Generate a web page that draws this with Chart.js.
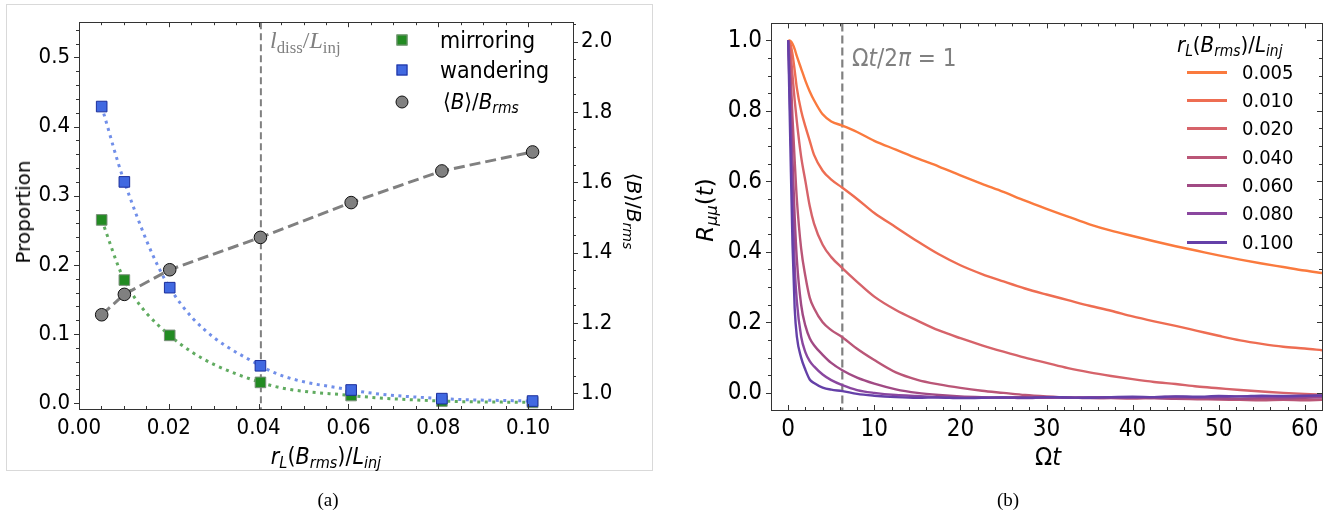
<!DOCTYPE html>
<html>
<head>
<meta charset="utf-8">
<script src="https://cdn.jsdelivr.net/npm/chart.js@4.4.0/dist/chart.umd.min.js"></script>
<style>
    body { margin: 0; width: 1343px; height: 518px; background: #fff; position: relative; overflow: hidden; font-family: 'DejaVu Sans', sans-serif; color: #000; }
    canvas { position: absolute; top: 0; }
    .t { position: absolute; white-space: nowrap; line-height: 1; transform: translate(-50%, -50%); }
    .l { position: absolute; white-space: nowrap; line-height: 1; transform: translateY(-50%); }
    .c { font-family: 'DejaVu Sans Condensed', 'DejaVu Sans', sans-serif; }
    sub { font-size: 70%; vertical-align: -0.28em; line-height: 0; }
    .serif { font-family: 'Liberation Serif', 'DejaVu Serif', serif; }
    .frameA { position: absolute; left: 6px; top: 4px; width: 645px; height: 465px; border: 1px solid #d9d9d9; }
    .mk { position: absolute; transform: translate(-50%, -50%); box-sizing: border-box; }
    .ln { position: absolute; height: 3px; width: 40px; left: 1187px; }
</style>
</head>
<body>
<div class="frameA"></div>
<canvas id="chartA" width="660" height="480" style="left:0;width:660px;height:480px"></canvas>
<canvas id="chartB" width="683" height="480" style="left:660px;width:683px;height:480px"></canvas>

<!-- panel (a) texts -->
<div class="t" style="left:23px;top:212px;font-size:20px;transform:translate(-50%,-50%) rotate(-90deg)">Proportion</div>
<div class="t" style="left:634px;top:211px;font-size:20px;transform:translate(-50%,-50%) rotate(90deg)">⟨<i>B</i>⟩/<i>B</i><sub><i>rms</i></sub></div>
<div class="t c" style="left:326px;top:456px;font-size:23px"><i>r</i><sub><i>L</i></sub>(<i>B</i><sub><i>rms</i></sub>)/<i>L</i><sub><i>inj</i></sub></div>
<div class="l serif" style="left:270px;top:40px;font-size:24px;color:#808080"><i>l</i><sub>diss</sub>/<i>L</i><sub>inj</sub></div>

<div class="mk" style="left:402px;top:40px;width:11px;height:11px;background:#228b22;border:1px solid #7b8f7b"></div>
<div class="mk" style="left:402px;top:70px;width:11px;height:11px;background:#4169e1;border:1px solid #1c2f9c"></div>
<div class="mk" style="left:402px;top:102px;width:13px;height:13px;border-radius:50%;background:#808080;border:1px solid #111"></div>
<div class="l c" style="left:440px;top:40px;font-size:23px">mirroring</div>
<div class="l c" style="left:440px;top:70px;font-size:23px">wandering</div>
<div class="l c" style="left:443px;top:102px;font-size:22px">⟨<i>B</i>⟩/<i>B</i><sub><i>rms</i></sub></div>
<div class="t serif" style="left:328px;top:499px;font-size:19px">(a)</div>

<!-- panel (b) texts -->
<div class="t" style="left:705px;top:210px;font-size:23px;transform:translate(-50%,-50%) rotate(-90deg)"><i>R</i><sub><i>μμ</i></sub>(<i>t</i>)</div>
<div class="t c" style="left:1048px;top:456px;font-size:25px">Ω<i>t</i></div>
<div class="l c" style="left:852px;top:58px;font-size:24px;color:#808080">Ω<i>t</i>/2<i>π</i> = 1</div>
<div class="l c" style="left:1177px;top:45px;font-size:22px"><i>r</i><sub><i>L</i></sub>(<i>B</i><sub><i>rms</i></sub>)/<i>L</i><sub><i>inj</i></sub></div>
<div id="legendB"></div>
<div class="t serif" style="left:1008px;top:499px;font-size:19px">(b)</div>

<script>
// ---- panel (a) data ----
const rL = [0.00505, 0.0101, 0.0202, 0.0404, 0.0606, 0.0808, 0.101];
const mirroring = [0.265, 0.178, 0.098, 0.030, 0.011, 0.003, 0.001];
const wandering = [0.429, 0.320, 0.167, 0.054, 0.019, 0.0065, 0.003];
const bMeanRatio = [1.223, 1.281, 1.351, 1.443, 1.542, 1.632, 1.686];
const lDiss = 0.0405;

const aXTicks = [0, 0.02, 0.04, 0.06, 0.08, 0.10];
const aLeftTicks = [0, 0.1, 0.2, 0.3, 0.4, 0.5];
const aRightTicks = [1.0, 1.2, 1.4, 1.6, 1.8, 2.0];

// ---- panel (b) data ----
const omegaT = [0, 0.25, 0.5, 0.75, 1, 1.5, 2, 2.5, 3, 4, 5, 6.28, 8, 10, 12.5, 15, 17.5, 20, 22.5, 25,
                27.5, 30, 32.5, 35, 37.5, 40, 42.5, 45, 47.5, 50, 52.5, 55, 57.5, 60, 62];
const r005 = [1.0, 0.998, 0.99, 0.975, 0.955, 0.92, 0.885, 0.855, 0.83, 0.79, 0.77, 0.758, 0.74, 0.715, 0.69, 0.665, 0.642, 0.617, 0.593, 0.57,
              0.545, 0.522, 0.5, 0.478, 0.46, 0.445, 0.43, 0.416, 0.403, 0.39, 0.378, 0.367, 0.357, 0.347, 0.34];
const r010 = [1.0, 0.99, 0.96, 0.915, 0.865, 0.8, 0.755, 0.715, 0.675, 0.63, 0.605, 0.582, 0.55, 0.51, 0.47, 0.43, 0.393, 0.362, 0.337, 0.316,
              0.296, 0.279, 0.263, 0.247, 0.233, 0.217, 0.203, 0.19, 0.176, 0.162, 0.149, 0.139, 0.131, 0.126, 0.121];
const r020 = [1.0, 0.97, 0.9, 0.83, 0.77, 0.67, 0.6, 0.53, 0.48, 0.42, 0.385, 0.354, 0.315, 0.273, 0.235, 0.205, 0.177, 0.155, 0.135, 0.117,
              0.1, 0.085, 0.07, 0.058, 0.048, 0.039, 0.031, 0.025, 0.018, 0.013, 0.008, 0.004, 0.0, -0.003, -0.005];
const r040 = [1.0, 0.92, 0.78, 0.66, 0.55, 0.41, 0.33, 0.27, 0.24, 0.2, 0.178, 0.158, 0.125, 0.093, 0.058, 0.037, 0.024, 0.014, 0.006, 0.0,
              -0.006, -0.01, -0.013, -0.014, -0.015, -0.016, -0.015, -0.017, -0.018, -0.019, -0.02, -0.021, -0.02, -0.021, -0.02];
const r060 = [1.0, 0.86, 0.66, 0.5, 0.38, 0.25, 0.19, 0.155, 0.135, 0.108, 0.085, 0.064, 0.043, 0.026, 0.01, 0.0, -0.006, -0.01, -0.012, -0.013,
              -0.012, -0.014, -0.013, -0.015, -0.014, -0.013, -0.015, -0.016, -0.014, -0.016, -0.017, -0.015, -0.016, -0.014, -0.013];
const r080 = [1.0, 0.78, 0.55, 0.36, 0.26, 0.16, 0.115, 0.09, 0.075, 0.052, 0.036, 0.022, 0.008, 0.0, -0.006, -0.009, -0.012, -0.013, -0.014, -0.013,
              -0.015, -0.013, -0.014, -0.012, -0.013, -0.014, -0.012, -0.011, -0.013, -0.012, -0.01, -0.011, -0.012, -0.01, -0.009];
const r100 = [1.0, 0.7, 0.42, 0.24, 0.16, 0.1, 0.065, 0.038, 0.028, 0.015, 0.009, 0.005, -0.003, -0.008, -0.012, -0.014, -0.013, -0.015, -0.014, -0.013,
              -0.014, -0.012, -0.013, -0.014, -0.012, -0.011, -0.012, -0.01, -0.011, -0.009, -0.01, -0.008, -0.009, -0.008, -0.007];
const seriesNames = ['0.005', '0.010', '0.020', '0.040', '0.060', '0.080', '0.100'];
const seriesValues = [r005, r010, r020, r040, r060, r080, r100];
const seriesColors = ['#fa7a3e', '#ee6d52', '#d6636a', '#ba5677', '#a14a84', '#8a479f', '#6440a8'];
const twoPi = 6.283;

const bXTicks = [0, 10, 20, 30, 40, 50, 60];
const bYTicks = [0, 0.2, 0.4, 0.6, 0.8, 1.0];

function range(start, stop, step) {
    const out = [];
    for (let v = start; v <= stop + step / 1000; v += step) out.push(Math.round(v * 1e6) / 1e6);
    return out;
}

// frame around the plot area plus major/minor tick marks
const frameTicks = {
    id: 'frameTicks',
    afterDraw(chart, args, opts) {
        const ctx = chart.ctx;
        const a = chart.chartArea;
        ctx.save();
        ctx.strokeStyle = '#333';
        ctx.lineWidth = 1;
        ctx.strokeRect(Math.round(a.left) + 0.5, Math.round(a.top) + 0.5, Math.round(a.right - a.left), Math.round(a.bottom - a.top));
        opts.marks.forEach(m => {
            const scale = chart.scales[m.scale];
            m.values.forEach(v => {
                if (v < scale.min || v > scale.max) return;
                const p = Math.round(scale.getPixelForValue(v)) + 0.5;
                const len = m.len * m.dir;
                ctx.beginPath();
                if (m.side === 'bottom') { ctx.moveTo(p, a.bottom); ctx.lineTo(p, a.bottom - len); }
                if (m.side === 'top') { ctx.moveTo(p, a.top); ctx.lineTo(p, a.top + len); }
                if (m.side === 'left') { ctx.moveTo(a.left, p); ctx.lineTo(a.left + len, p); }
                if (m.side === 'right') { ctx.moveTo(a.right, p); ctx.lineTo(a.right - len, p); }
                ctx.stroke();
            });
        });
        ctx.restore();
    }
};

// vertical dashed reference line
const vLine = {
    id: 'vLine',
    beforeDatasetsDraw(chart, args, opts) {
        const ctx = chart.ctx;
        const a = chart.chartArea;
        const x = chart.scales.x.getPixelForValue(opts.value);
        ctx.save();
        ctx.strokeStyle = opts.color;
        ctx.lineWidth = opts.width;
        ctx.setLineDash(opts.dash);
        ctx.beginPath();
        ctx.moveTo(x, a.top);
        ctx.lineTo(x, a.bottom);
        ctx.stroke();
        ctx.restore();
    }
};

function fixedTicks(list) {
    return axis => { axis.ticks = list.map(v => ({ value: v })); };
}

// ---------------- chart (a) ----------------
const tickFontA = { family: "'DejaVu Sans Condensed', 'DejaVu Sans'", size: 22 };

new Chart(document.getElementById('chartA').getContext('2d'), {
    type: 'scatter',
    data: {
        datasets: [
            {
                label: '<B>/Brms',
                data: rL.map((x, i) => ({ x: x, y: bMeanRatio[i] })),
                yAxisID: 'y1',
                showLine: true,
                borderColor: '#808080',
                borderWidth: 3,
                borderDash: [11, 5],
                pointStyle: 'circle',
                pointRadius: 6.3,
                pointBackgroundColor: '#808080',
                pointBorderColor: '#111',
                pointBorderWidth: 1,
                order: 1
            },
            {
                label: 'wandering',
                data: rL.map((x, i) => ({ x: x, y: wandering[i] })),
                yAxisID: 'y',
                showLine: true,
                cubicInterpolationMode: 'monotone',
                borderColor: 'rgba(65,105,225,0.75)',
                borderWidth: 3,
                borderDash: [3, 4.5],
                pointStyle: 'rect',
                pointRadius: 7.5,
                pointBackgroundColor: '#4169e1',
                pointBorderColor: '#1c2f9c',
                pointBorderWidth: 1,
                order: 2
            },
            {
                label: 'mirroring',
                data: rL.map((x, i) => ({ x: x, y: mirroring[i] })),
                yAxisID: 'y',
                showLine: true,
                cubicInterpolationMode: 'monotone',
                borderColor: 'rgba(34,139,34,0.72)',
                borderWidth: 3,
                borderDash: [3, 4.5],
                pointStyle: 'rect',
                pointRadius: 7.5,
                pointBackgroundColor: '#228b22',
                pointBorderColor: '#7b8f7b',
                pointBorderWidth: 1,
                order: 3
            }
        ]
    },
    options: {
        responsive: false,
        animation: false,
        devicePixelRatio: 1,
        layout: { padding: { top: 10, left: 0, right: 0, bottom: 0 } },
        plugins: {
            legend: { display: false },
            tooltip: { enabled: false },
            vLine: { value: lDiss, color: '#808080', width: 2, dash: [7, 4] },
            frameTicks: {
                marks: [
                    { scale: 'x', side: 'bottom', values: aXTicks, len: 5, dir: 1 },
                    { scale: 'x', side: 'bottom', values: range(0, 0.11, 0.005), len: 3, dir: 1 },
                    { scale: 'x', side: 'top', values: aXTicks, len: 5, dir: 1 },
                    { scale: 'x', side: 'top', values: range(0, 0.11, 0.005), len: 3, dir: 1 },
                    { scale: 'y', side: 'left', values: aLeftTicks, len: 5, dir: -1 },
                    { scale: 'y', side: 'left', values: range(0, 0.54, 0.02), len: 3, dir: -1 },
                    { scale: 'y1', side: 'right', values: aRightTicks, len: 5, dir: -1 },
                    { scale: 'y1', side: 'right', values: range(0.95, 2.05, 0.05), len: 3, dir: -1 }
                ]
            }
        },
        scales: {
            x: {
                type: 'linear',
                min: 0,
                max: 0.11,
                afterBuildTicks: fixedTicks(aXTicks),
                afterFit: s => { s.height = 71; },
                grid: { display: false, drawTicks: false },
                border: { display: false },
                ticks: { font: tickFontA, color: '#000', padding: 6, maxRotation: 0, autoSkip: false,
                         callback: v => v.toFixed(2) }
            },
            y: {
                position: 'left',
                min: -0.0085,
                max: 0.551,
                afterBuildTicks: fixedTicks(aLeftTicks),
                afterFit: s => { s.width = 79; },
                grid: { display: false, drawTicks: false },
                border: { display: false },
                ticks: { font: tickFontA, color: '#000', padding: 9, autoSkip: false, callback: v => v.toFixed(1) }
            },
            y1: {
                position: 'right',
                min: 0.955,
                max: 2.055,
                afterBuildTicks: fixedTicks(aRightTicks),
                afterFit: s => { s.width = 87; },
                grid: { display: false, drawTicks: false },
                border: { display: false },
                ticks: { font: tickFontA, color: '#000', padding: 8, autoSkip: false, callback: v => v.toFixed(1) }
            }
        }
    },
    plugins: [vLine, frameTicks]
});

// ---------------- chart (b) ----------------
const tickFontB = { family: "'DejaVu Sans Condensed', 'DejaVu Sans'", size: 24 };

const datasetsB = seriesNames.map((name, i) => ({
    label: name,
    data: omegaT.map((t, j) => ({ x: t, y: seriesValues[i][j] })),
    showLine: true,
    borderColor: seriesColors[i],
    borderWidth: 2.4,
    pointRadius: 0,
    cubicInterpolationMode: 'monotone',
    order: seriesNames.length - i
}));

new Chart(document.getElementById('chartB').getContext('2d'), {
    type: 'scatter',
    data: { datasets: datasetsB },
    options: {
        responsive: false,
        animation: false,
        devicePixelRatio: 1,
        layout: { padding: { top: 11, left: 0, right: 21, bottom: 0 } },
        plugins: {
            legend: { display: false },
            tooltip: { enabled: false },
            vLine: { value: twoPi, color: '#808080', width: 2.2, dash: [8, 4] },
            frameTicks: {
                marks: [
                    { scale: 'x', side: 'bottom', values: bXTicks, len: 5, dir: 1 },
                    { scale: 'x', side: 'bottom', values: range(-2, 62, 2), len: 3, dir: 1 },
                    { scale: 'x', side: 'top', values: bXTicks, len: 5, dir: 1 },
                    { scale: 'x', side: 'top', values: range(-2, 62, 2), len: 3, dir: 1 },
                    { scale: 'y', side: 'left', values: bYTicks, len: 5, dir: -1 },
                    { scale: 'y', side: 'left', values: range(-0.05, 1.05, 0.05), len: 3, dir: -1 },
                    { scale: 'y', side: 'right', values: bYTicks, len: 5, dir: 1 },
                    { scale: 'y', side: 'right', values: range(-0.05, 1.05, 0.05), len: 3, dir: 1 }
                ]
            }
        },
        scales: {
            x: {
                type: 'linear',
                min: -2,
                max: 62,
                afterBuildTicks: fixedTicks(bXTicks),
                afterFit: s => { s.height = 70; },
                grid: { display: false, drawTicks: false },
                border: { display: false },
                ticks: { font: tickFontB, color: '#000', padding: 5, maxRotation: 0, autoSkip: false,
                         callback: v => String(v) }
            },
            y: {
                position: 'left',
                min: -0.0486,
                max: 1.048,
                afterBuildTicks: fixedTicks(bYTicks),
                afterFit: s => { s.width = 111; },
                grid: { display: false, drawTicks: false },
                border: { display: false },
                ticks: { font: tickFontB, color: '#000', padding: 9, autoSkip: false, callback: v => v.toFixed(1) }
            }
        }
    },
    plugins: [vLine, frameTicks]
});

// legend for (b)
const legendB = document.getElementById('legendB');
seriesNames.forEach((name, i) => {
    const y = Math.round(71.7 + i * 28.3);
    const line = document.createElement('div');
    line.className = 'ln';
    line.style.top = (y - 1) + 'px';
    line.style.background = seriesColors[i];
    legendB.appendChild(line);
    const txt = document.createElement('div');
    txt.className = 'l c';
    txt.style.left = '1242px';
    txt.style.top = y + 'px';
    txt.style.fontSize = '20px';
    txt.textContent = name;
    legendB.appendChild(txt);
});
</script>
</body>
</html>
